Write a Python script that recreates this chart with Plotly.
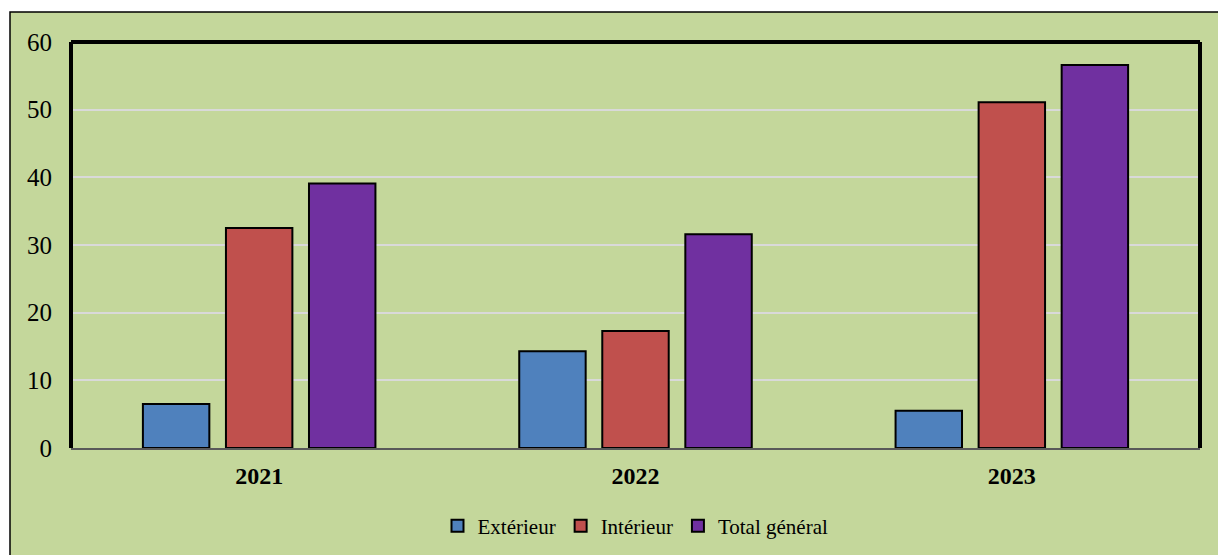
import plotly.graph_objects as go

years = ["2021", "2022", "2023"]
exterieur = [6.5, 14.3, 5.5]
interieur = [32.5, 17.3, 51.1]
total = [39.1, 31.6, 56.6]
series_names = ["Extérieur", "Intérieur", "Total général"]
colors = ["#4F81BD", "#C0504D", "#7030A0"]
y_ticks = [0, 10, 20, 30, 40, 50, 60]

BG = "#C4D79B"
FONT = "Liberation Serif, Times New Roman, serif"

fig = go.Figure()
for name, vals, col in zip(series_names, [exterieur, interieur, total], colors):
    fig.add_trace(go.Bar(
        x=years, y=vals, name=name,
        marker=dict(color=col, line=dict(color="black", width=2)),
    ))

W, H = 1218, 555
L, R, T, B = 71, 18, 42, 107
pw, ph = W - L - R, H - T - B

def px(xp):
    return (xp - L) / pw

def py(yp):
    return (H - B - yp) / ph

shapes = [
    # outer chart area
    dict(type="rect", xref="paper", yref="paper", layer="below",
         x0=px(10), x1=px(1230), y0=py(570), y1=py(12),
         fillcolor=BG, line=dict(color="black", width=1.5)),
    # plot frame: left, top, right
    dict(type="line", xref="paper", yref="paper", x0=0, x1=0, y0=0, y1=1,
         line=dict(color="black", width=4)),
    dict(type="line", xref="paper", yref="paper", x0=0, x1=1, y0=1, y1=1,
         line=dict(color="black", width=4)),
    dict(type="line", xref="paper", yref="paper", x0=1, x1=1, y0=0, y1=1,
         line=dict(color="black", width=4)),
]

fig.update_layout(
    width=W, height=H,
    margin=dict(l=L, r=R, t=T, b=B, autoexpand=False),
    paper_bgcolor="white",
    plot_bgcolor=BG,
    barmode="group",
    bargap=0.338,
    bargroupgap=0.2,
    font=dict(family=FONT, color="black", size=22),
    shapes=shapes,
    showlegend=True,
    legend=dict(orientation="h", x=0.5, xanchor="center", y=py(526), yanchor="middle",
                font=dict(size=21, family=FONT), bgcolor="rgba(0,0,0,0)",
                itemwidth=30, traceorder="normal"),
    xaxis=dict(
        showgrid=False, showline=True, linecolor="#595959", linewidth=2,
        ticks="", tickfont=dict(size=24, family=FONT), automargin=False,
        tickprefix="<b>", ticksuffix="</b>", ticklabelstandoff=5,
    ),
    yaxis=dict(
        range=[0, 60], tickvals=y_ticks, showgrid=True, gridcolor="#D9D9D9",
        gridwidth=2, zeroline=False, showline=False, ticks="", automargin=False,
        tickfont=dict(size=25, family=FONT), ticklabelstandoff=18,
    ),
)

fig.write_html("out.html")
